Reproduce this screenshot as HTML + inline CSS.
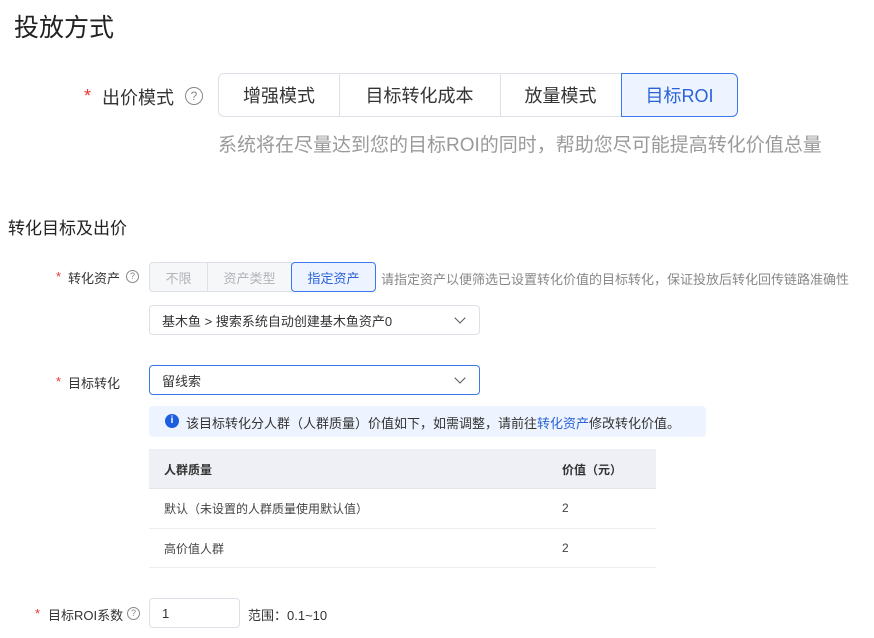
<!DOCTYPE html>
<html><head><meta charset="utf-8"><style>
body{margin:0;width:874px;height:638px;background:#fff;font-family:"Liberation Sans","Noto Sans CJK SC",sans-serif;color:#333;position:relative;overflow:hidden}
.a{position:absolute;white-space:nowrap}
.star{color:#e33;}
.q{display:inline-block;border:1.3px solid #888;border-radius:50%;text-align:center;color:#888;box-sizing:border-box}
.seg{position:absolute;box-sizing:border-box;border:1px solid #dde0e6;display:flex;align-items:center;justify-content:center;color:#333}
.sel{border:1.5px solid #3a78f0;background:#eef4ff;color:#2a62d8}
.chev{position:absolute;width:7px;height:7px;border-right:1.5px solid #555;border-bottom:1.5px solid #555;transform:rotate(45deg)}
</style></head><body>
<div class="a" style="left:14px;top:8px;font-size:25px;color:#222">投放方式</div>

<div class="a star" style="left:84px;top:86px;font-size:18px">*</div>
<div class="a" style="left:102px;top:84px;font-size:18px;color:#333">出价模式</div>
<div class="a q" style="left:185px;top:87px;width:18px;height:18px;font-size:12px;line-height:16px">?</div>
<div class="seg" style="left:218px;top:73px;width:122px;height:44px;font-size:18px;border-radius:6px 0 0 6px">增强模式</div>
<div class="seg" style="left:339px;top:73px;width:162px;height:44px;font-size:18px;border-left:none">目标转化成本</div>
<div class="seg" style="left:500px;top:73px;width:122px;height:44px;font-size:18px;border-left:none">放量模式</div>
<div class="seg sel" style="left:621px;top:73px;width:117px;height:44px;font-size:18px;border-radius:0 6px 6px 0">目标ROI</div>
<div class="a" style="left:218px;top:130px;font-size:19px;color:#9a9a9a">系统将在尽量达到您的目标ROI的同时，帮助您尽可能提高转化价值总量</div>

<div class="a" style="left:8px;top:214px;font-size:17px;color:#222">转化目标及出价</div>

<div class="a star" style="left:56px;top:269px;font-size:13px">*</div>
<div class="a" style="left:68px;top:268px;font-size:13px">转化资产</div>
<div class="a q" style="left:126px;top:270px;width:13px;height:13px;font-size:9px;line-height:11px">?</div>
<div class="seg" style="left:149px;top:262px;width:59px;height:30px;font-size:13px;color:#b0b3b8;background:#f6f7f9;border-radius:4px 0 0 4px">不限</div>
<div class="seg" style="left:207px;top:262px;width:85px;height:30px;font-size:13px;color:#b0b3b8;background:#f6f7f9">资产类型</div>
<div class="seg sel" style="left:291px;top:262px;width:85px;height:30px;font-size:13px;border-radius:4px">指定资产</div>
<div class="a" style="left:381px;top:269px;font-size:13px;color:#888">请指定资产以便筛选已设置转化价值的目标转化，保证投放后转化回传链路准确性</div>

<div class="seg" style="left:149px;top:305px;width:331px;height:30px;border-radius:4px;justify-content:flex-start;padding-left:12px;font-size:13px">基木鱼 &gt; 搜索系统自动创建基木鱼资产0</div>
<div class="chev" style="left:456px;top:314px"></div>

<div class="a star" style="left:56px;top:374px;font-size:13px">*</div>
<div class="a" style="left:68px;top:373px;font-size:13px">目标转化</div>
<div class="seg" style="left:149px;top:365px;width:331px;height:30px;border-radius:4px;border:1.5px solid #3a78f0;justify-content:flex-start;padding-left:12px;font-size:13px">留线索</div>
<div class="chev" style="left:456px;top:374px"></div>

<div class="a" style="left:149px;top:406px;width:557px;height:31px;background:#eef4ff;border-radius:4px"></div>
<div class="a" style="left:165px;top:414px;width:14px;height:14px;border-radius:50%;background:#1e5fe0;color:#fff;font-size:10px;line-height:14px;text-align:center;font-weight:bold">i</div>
<div class="a" style="left:186px;top:413px;font-size:13px;color:#333">该目标转化分人群（人群质量）价值如下，如需调整，请前往<span style="color:#2a62d8">转化资产</span>修改转化价值。</div>

<div class="a" style="left:149px;top:449px;width:507px;height:39px;background:#eef0f5;border-bottom:1px solid #e3e5ea"></div>
<div class="a" style="left:164px;top:461px;font-size:12px;font-weight:bold;color:#333">人群质量</div>
<div class="a" style="left:562px;top:461px;font-size:12px;font-weight:bold;color:#333">价值（元）</div>
<div class="a" style="left:149px;top:528px;width:507px;height:1px;background:#eceef2"></div>
<div class="a" style="left:149px;top:567px;width:507px;height:1px;background:#eceef2"></div>
<div class="a" style="left:164px;top:500px;font-size:12px;color:#444">默认（未设置的人群质量使用默认值）</div>
<div class="a" style="left:562px;top:500px;font-size:12px;color:#444;line-height:16px">2</div>
<div class="a" style="left:164px;top:540px;font-size:12px;color:#444">高价值人群</div>
<div class="a" style="left:562px;top:540px;font-size:12px;color:#444;line-height:16px">2</div>

<div class="a star" style="left:35px;top:606px;font-size:13px">*</div>
<div class="a" style="left:48px;top:605px;font-size:13px">目标ROI系数</div>
<div class="a q" style="left:127px;top:607px;width:13px;height:13px;font-size:9px;line-height:11px">?</div>
<div class="seg" style="left:149px;top:598px;width:91px;height:30px;border-radius:4px;justify-content:flex-start;padding-left:12px;font-size:13px">1</div>
<div class="a" style="left:248px;top:605px;font-size:13px">范围：0.1~10</div>
</body></html>
